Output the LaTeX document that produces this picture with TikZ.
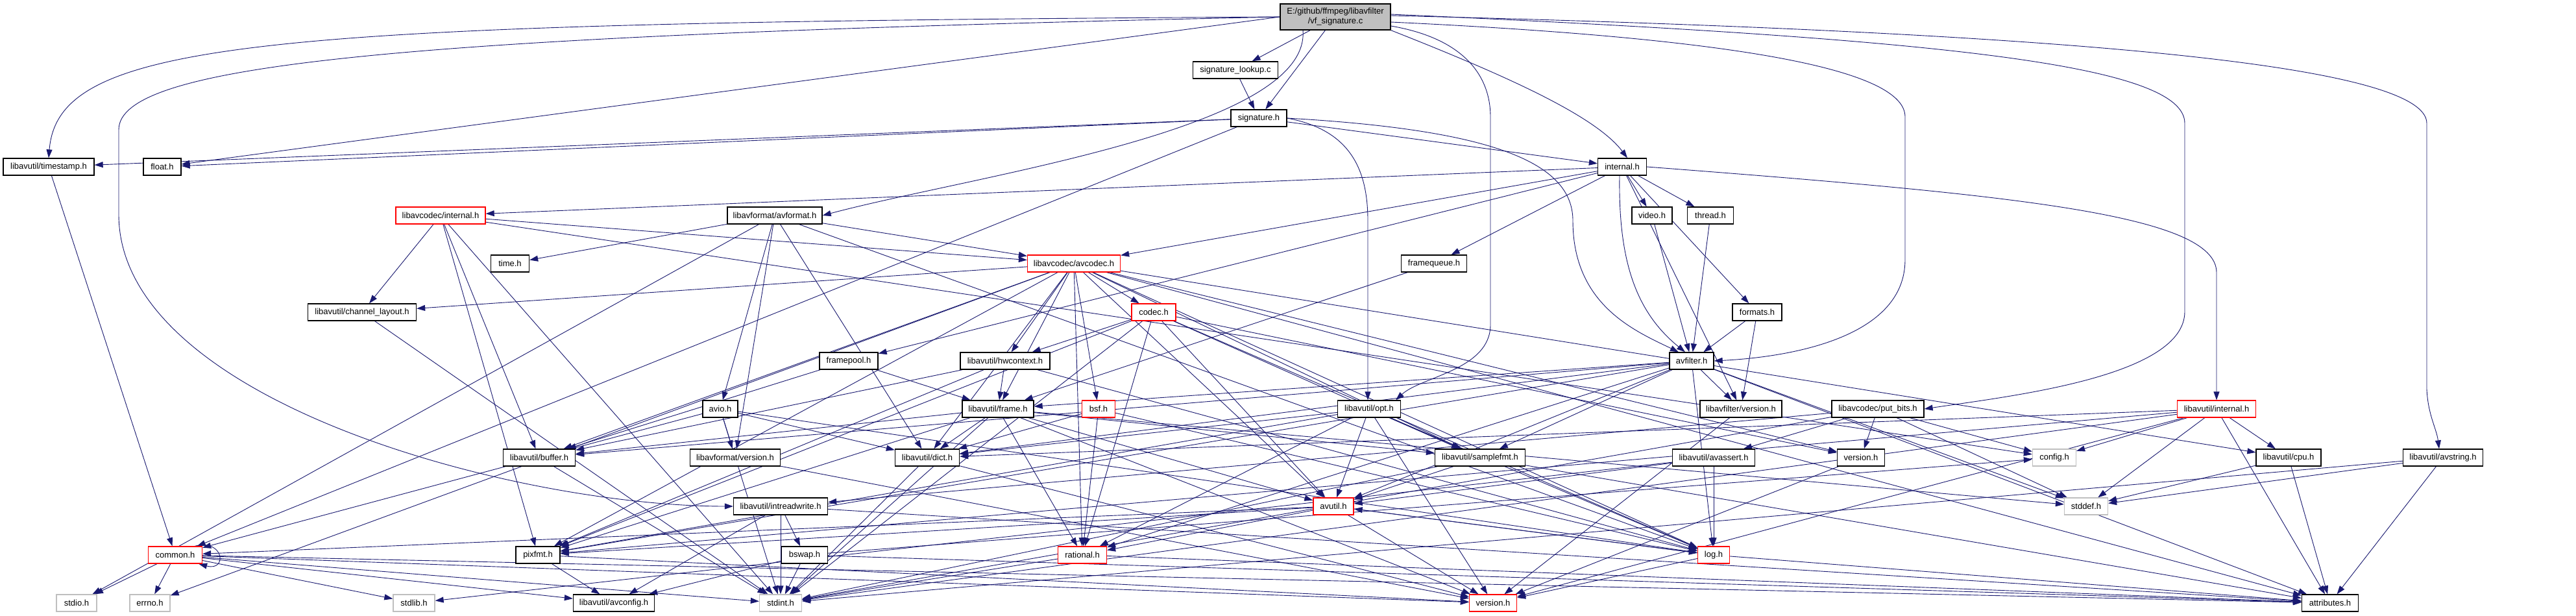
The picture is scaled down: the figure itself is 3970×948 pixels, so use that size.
\documentclass[tikz,border=0pt]{standalone}
\usepackage{fontspec}
\setmainfont{Liberation Sans}
\usetikzlibrary{arrows.meta}
\definecolor{edgec}{RGB}{25,25,112}
\definecolor{grayb}{RGB}{191,191,191}
\definecolor{redb}{RGB}{255,0,0}
\pgfdeclarelayer{bglayer}
\pgfdeclarelayer{edgelayer}
\pgfsetlayers{bglayer,edgelayer,main}
\begin{document}
\begin{tikzpicture}[x=1pt,y=-1pt,
  nb/.style={draw=black, fill=white, line width=1.3pt, minimum height=26pt, inner sep=0pt, font=\fontsize{13}{15}\selectfont, text=black},
  rb/.style={nb, draw=redb},
  gb/.style={nb, draw=grayb},
  e/.style={draw=edgec, line width=0.9pt, -{Triangle[length=13pt,width=9pt]}},
]
\begin{pgfonlayer}{bglayer}
\fill[white] (0,0) rectangle (3970,948);
\end{pgfonlayer}
\useasboundingbox (0,0) rectangle (3970,948);
% nodes
\node[nb,fill=grayb,minimum width=170pt,minimum height=40pt,align=center] (root) at (2058,26) {E:/github/ffmpeg/libavfilter\\/vf\_signature.c};
\node[nb,minimum width=131pt] (siglookup) at (1904,108) {signature\_lookup.c};
\node[nb,minimum width=86pt] (sigh) at (1940,182) {signature.h};
\node[nb,minimum width=140pt] (ts) at (75,257) {libavutil/timestamp.h};
\node[nb,minimum width=58pt] (float) at (250,257) {float.h};
\node[nb,minimum width=75pt] (internal) at (2500,257) {internal.h};
\node[rb,minimum width=138pt] (lavcint) at (679,332) {libavcodec/internal.h};
\node[nb,minimum width=146pt] (avformat) at (1194,332) {libavformat/avformat.h};
\node[nb,minimum width=62pt] (video) at (2546,332) {video.h};
\node[nb,minimum width=71pt] (thread) at (2636,332) {thread.h};
\node[nb,minimum width=59pt] (time) at (786,406) {time.h};
\node[rb,minimum width=143pt] (avcodec) at (1655,406) {libavcodec/avcodec.h};
\node[nb,minimum width=101pt] (framequeue) at (2210,406) {framequeue.h};
\node[nb,minimum width=167pt] (chlayout) at (558,481) {libavutil/channel\_layout.h};
\node[rb,minimum width=68pt] (codec) at (1778,481) {codec.h};
\node[nb,minimum width=76pt] (formats) at (2708,481) {formats.h};
\node[nb,minimum width=90pt] (framepool) at (1308,556) {framepool.h};
\node[nb,minimum width=138pt] (hwctx) at (1549,556) {libavutil/hwcontext.h};
\node[nb,minimum width=68pt] (avfilter) at (2607,556) {avfilter.h};
\node[nb,minimum width=54pt] (avio) at (1110,630) {avio.h};
\node[nb,minimum width=110pt] (frame) at (1538,630) {libavutil/frame.h};
\node[rb,minimum width=51pt] (bsf) at (1693,630) {bsf.h};
\node[nb,minimum width=97pt] (opt) at (2110,630) {libavutil/opt.h};
\node[nb,minimum width=126pt] (lavfiver) at (2683,630) {libavfilter/version.h};
\node[nb,minimum width=142pt] (putbits) at (2894,630) {libavcodec/put\_bits.h};
\node[rb,minimum width=121pt] (lavuint) at (3416,630) {libavutil/internal.h};
\node[nb,minimum width=111pt] (buffer) at (831,705) {libavutil/buffer.h};
\node[nb,minimum width=139pt] (lavfver) at (1133,705) {libavformat/version.h};
\node[nb,minimum width=99pt] (dict) at (1429,705) {libavutil/dict.h};
\node[nb,minimum width=139pt] (samplefmt) at (2281,705) {libavutil/samplefmt.h};
\node[nb,minimum width=127pt] (avassert) at (2641,705) {libavutil/avassert.h};
\node[nb,minimum width=73pt] (lavcver) at (2868,705) {version.h};
\node[gb,minimum width=67pt] (config) at (3166,705) {config.h};
\node[nb,minimum width=100pt] (cpu) at (3527,705) {libavutil/cpu.h};
\node[nb,minimum width=123pt] (avstring) at (3765,705) {libavutil/avstring.h};
\node[nb,minimum width=145pt] (irw) at (1203,780) {libavutil/intreadwrite.h};
\node[rb,minimum width=62pt] (avutil) at (2055,780) {avutil.h};
\node[gb,minimum width=67pt] (stddef) at (3215,780) {stddef.h};
\node[rb,minimum width=83pt] (common) at (270,855) {common.h};
\node[nb,minimum width=68pt] (pixfmt) at (829,855) {pixfmt.h};
\node[nb,minimum width=71pt] (bswap) at (1240,855) {bswap.h};
\node[rb,minimum width=75pt] (rational) at (1668,855) {rational.h};
\node[rb,minimum width=49pt] (log) at (2641,855) {log.h};
\node[gb,minimum width=62pt] (stdio) at (118,929) {stdio.h};
\node[gb,minimum width=62pt] (errno) at (231,929) {errno.h};
\node[gb,minimum width=64pt] (stdlib) at (638,929) {stdlib.h};
\node[nb,minimum width=125pt] (avconfig) at (946,929) {libavutil/avconfig.h};
\node[gb,minimum width=65pt] (stdint) at (1203,929) {stdint.h};
\node[rb,minimum width=73pt] (lavuver) at (2301,929) {version.h};
\node[nb,minimum width=87pt] (attributes) at (3591,929) {attributes.h};
% edges
\begin{pgfonlayer}{edgelayer}
\draw[e] (root) -- (siglookup);
\draw[e] (root) -- (sigh);
\draw[e] (root.south east) .. controls (2330,120) and (2460,180) .. ([xshift=8pt]internal.north);
\draw[e] (root.west) -- (float);
\draw[e] (root.west) .. controls (400,35) and (90,60) .. (ts.north);
\draw[e] ([xshift=-50pt]root.south) .. controls (2020,200) and (1500,270) .. (avformat.east);
\draw[e] (root.west) .. controls (600,55) and (183,100) .. (183,200) -- (183,330) .. controls (183,620) and (800,780) .. (irw.west);
\draw[e] ([yshift=-14pt]root.east) .. controls (2260,60) and (2297,120) .. (2297,180) -- (2297,500) .. controls (2297,570) and (2190,580) .. ([xshift=-8pt]opt.north east);
\draw[e] ([yshift=-8pt]root.east) .. controls (2700,60) and (2936,110) .. (2936,180) -- (2936,400) .. controls (2936,520) and (2760,550) .. (avfilter.east);
\draw[e] ([yshift=4pt]root.east) .. controls (3000,60) and (3367,100) .. (3367,190) -- (3367,480) .. controls (3367,580) and (3100,610) .. (putbits.east);
\draw[e] ([yshift=2pt]root.east) .. controls (3200,50) and (3740,100) .. (3740,190) -- (3740,600) .. controls (3742,640) and (3755,660) .. ([xshift=-6pt]avstring.north);
\draw[e] (siglookup) -- (sigh);
\foreach \tg in {ts,float,common,internal}{\draw[e] (sigh) -- (\tg);}
\draw[e] (sigh.east) .. controls (2080,200) and (2108,260) .. (2108,340) -- ([xshift=-2pt]opt.north);
\draw[e] (sigh.east) .. controls (2300,200) and (2424,250) .. (2424,340) .. controls (2424,470) and (2520,510) .. ([xshift=-20pt]avfilter.north);
\foreach \tg in {lavcint,avcodec,framepool,framequeue,video,thread,formats,lavfiver}{\draw[e] (internal) -- (\tg);}
\draw[e] ([xshift=-4pt]internal.south) .. controls (2494,400) and (2520,480) .. ([xshift=-10pt]avfilter.north);
\draw[e] (internal.east) .. controls (3100,300) and (3416,330) .. (3416,420) -- (lavuint.north);
\draw[e] (video) -- (avfilter);
\draw[e] (thread) -- (avfilter);
\foreach \tg in {avfilter,lavfiver}{\draw[e] (formats) -- (\tg);}
\draw[e] (framequeue) -- (frame);
\foreach \tg in {buffer,frame}{\draw[e] (framepool) -- (\tg);}
\foreach \tg in {stddef,attributes,avutil,buffer,dict,frame,log,samplefmt,pixfmt,rational,lavfiver}{\draw[e] (avfilter) -- (\tg);}
\foreach \tg in {errno,samplefmt,attributes,avutil,buffer,cpu,chlayout,dict,frame,hwctx,log,pixfmt,rational,bsf,codec,lavcver}{\draw[e] (avcodec) -- (\tg);}
\foreach \tg in {stdint,avutil,hwctx,log,pixfmt,rational,samplefmt,lavcver}{\draw[e] (codec) -- (\tg);}
\foreach \tg in {dict,log,rational}{\draw[e] (bsf) -- (\tg);}
\foreach \tg in {buffer,frame,log,pixfmt}{\draw[e] (hwctx) -- (\tg);}
\foreach \tg in {stddef,stdint,avutil,buffer,dict,rational,samplefmt,pixfmt,lavuver}{\draw[e] (frame) -- (\tg);}
\foreach \tg in {stdint,lavuver}{\draw[e] (dict) -- (\tg);}
\draw[e] (buffer) -- (stdint);
\foreach \tg in {stdint,avutil,attributes}{\draw[e] (samplefmt) -- (\tg);}
\foreach \tg in {avconfig,lavuver}{\draw[e] (pixfmt) -- (\tg);}
\foreach \tg in {stdint,attributes}{\draw[e] (rational) -- (\tg);}
\foreach \tg in {avutil,attributes,lavuver}{\draw[e] (log) -- (\tg);}
\foreach \tg in {common,rational,lavuver,log,pixfmt}{\draw[e] (avutil) -- (\tg);}
\foreach \tg in {errno,stdio,stdlib,stdint,attributes,lavuver,avconfig}{\draw[e] (common) -- (\tg);}
\draw[e] ([xshift=-12pt]common.north east) .. controls +(45,-12) and +(45,12) .. ([xshift=-6pt]common.south east);
\foreach \tg in {rational,avutil,dict,log,pixfmt,samplefmt,lavuver}{\draw[e] (opt) -- (\tg);}
\foreach \tg in {time,stdio,avcodec,dict,log,avio,lavfver}{\draw[e] (avformat) -- (\tg);}
\foreach \tg in {stdint,common,dict,log,lavfver}{\draw[e] (avio) -- (\tg);}
\draw[e] (lavfver) -- (lavuver);
\draw[e] (chlayout) -- (stdint);
\foreach \tg in {stdint,buffer,chlayout,pixfmt,avcodec,config}{\draw[e] (lavcint) -- (\tg);}
\foreach \tg in {stdint,avconfig,attributes,bswap}{\draw[e] (irw) -- (\tg);}
\foreach \tg in {stdint,avconfig,attributes,config}{\draw[e] (bswap) -- (\tg);}
\draw[e] (ts) -- (common);
\foreach \tg in {stdint,stddef,config,irw,avassert,lavcver}{\draw[e] (putbits) -- (\tg);}
\foreach \tg in {stdlib,avutil,log}{\draw[e] (avassert) -- (\tg);}
\draw[e] (lavfiver) -- (lavuver);
\draw[e] (lavcver) -- (lavuver);
\foreach \tg in {config,stddef,stdint,attributes,cpu,dict,pixfmt,lavuver}{\draw[e] (lavuint) -- (\tg);}
\foreach \tg in {stddef,attributes}{\draw[e] (cpu) -- (\tg);}
\foreach \tg in {stddef,stdint,attributes}{\draw[e] (avstring) -- (\tg);}
\end{pgfonlayer}
\end{tikzpicture}
\end{document}
